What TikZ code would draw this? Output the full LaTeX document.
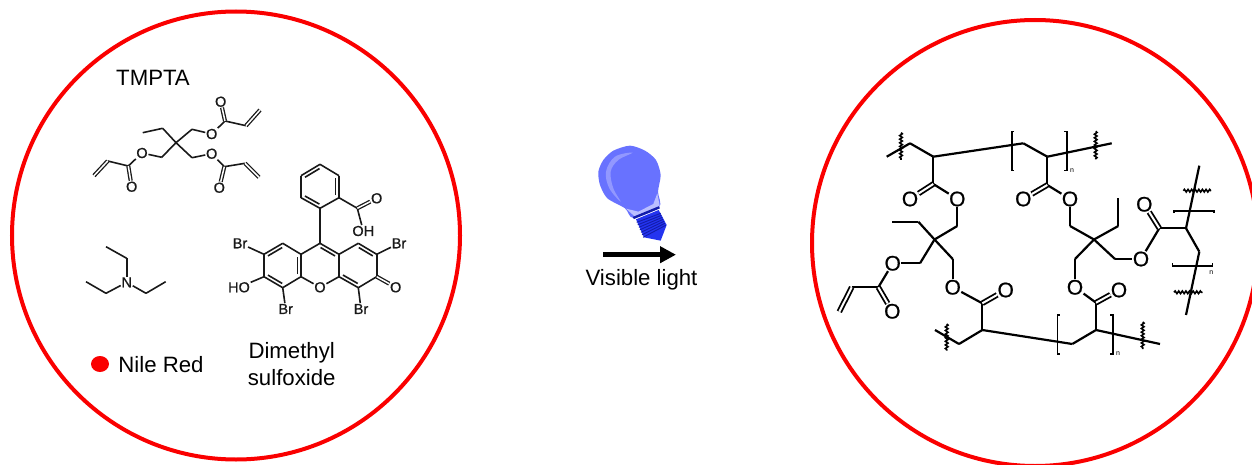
\documentclass[tikz,border=0pt]{standalone}
\usepackage{fontspec}
\setmainfont{Liberation Sans}
\newfontfamily\atomfont[FakeBold=0.8]{Liberation Sans}
\usepackage{tikz}
\usetikzlibrary{arrows.meta,calc,decorations.pathmorphing}
\definecolor{ringred}{RGB}{250,0,0}
\definecolor{bulbmain}{RGB}{104,114,255}
\definecolor{bulbshine}{RGB}{146,152,255}
\definecolor{bulbedge}{RGB}{186,190,255}
\definecolor{bulbbase}{RGB}{36,52,240}
\definecolor{bulbdark}{RGB}{18,28,170}
\tikzset{
  panel/.style={draw=ringred, line width=4pt},
  bigtext/.style={font=\fontsize{22.2}{27}\selectfont, text=black, align=center, inner sep=0pt},
  bond/.style={line width=1.6pt, black!90},
  dblbond/.style={bond, line width=1.3pt, double, double distance=1.5pt},
  atom/.style={font=\atomfont\fontsize{14.5}{14.5}\selectfont, inner sep=0.6pt, text=black!90},
  netbond/.style={line width=2.2pt, black},
  netdbl/.style={netbond, line width=1.8pt, double, double distance=2pt},
  netatom/.style={font=\atomfont\fontsize{21}{21}\selectfont, inner sep=0.2pt, text=black},
  wavy/.style={line width=1.6pt, black, decorate, decoration={snake, amplitude=1.3pt, segment length=3.6pt}},
  brack/.style={netbond, line width=1.6pt},
  repeatn/.style={font=\fontsize{7}{7}\selectfont, inner sep=0pt},
}
% inner line of a ring double bond, on the left of a -> b
\newcommand{\ringdbl}[2]{\draw[bond, shorten <=2.6pt, shorten >=2.6pt]
  ($(#1)!3.4pt!90:(#2)$) -- ($(#2)!3.4pt!-90:(#1)$);}
\begin{document}
\begin{tikzpicture}[x=1pt, y=-1pt]
  \useasboundingbox (0,0) rectangle (1252,465);
  \draw[panel] (236,235.5) circle (224);
  \draw[panel] (1035,243) circle (223);

  % TMPTA
  \node[bigtext] (tmpta) at (153,77.5) {TMPTA};
  \foreach \nm/\px/\py in {t0/176/142.7, t1/162.7/128.3, t2/142.7/132.7,
      a1/192/129.3, a2/225/121, a3/246/125.7, a4/260/110,
      b1/192/157.7, b2/224.3/166.7, b3/245/163.3, b4/259/177.3,
      c1/161.7/157.3, c2/128.3/166, c3/107.7/161, c4/94/175.7}
    {\coordinate (\nm) at (\px,\py);}
  \node[atom] (ao) at (211.7,134) {O};
  \node[atom] (aod) at (220.7,101.7) {O};
  \node[atom] (bo) at (211.7,153.7) {O};
  \node[atom] (bod) at (219.3,187.7) {O};
  \node[atom] (co) at (142,153) {O};
  \node[atom] (cod) at (131.7,186.7) {O};
  \foreach \a/\b in {t0/t1, t1/t2, t0/a1, a1/ao, ao/a2, a2/a3,
      t0/b1, b1/bo, bo/b2, b2/b3, t0/c1, c1/co, co/c2, c2/c3}
    {\draw[bond] (\a) -- (\b);}
  \foreach \a/\b in {a2/aod, a3/a4, b2/bod, b3/b4, c2/cod, c3/c4}
    {\draw[dblbond] (\a) -- (\b);}

  % Triethylamine
  \node[atom] (nn) at (126.7,282.3) {N};
  \foreach \nm/\px/\py in {e1/126.7/258.3, e2/106/246.7, e3/106/293.3,
      e4/86/281.7, e5/146/293.3, e6/165.7/281.7}
    {\coordinate (\nm) at (\px,\py);}
  \foreach \a/\b in {nn/e1, e1/e2, nn/e3, e3/e4, nn/e5, e5/e6}
    {\draw[bond] (\a) -- (\b);}

  % Eosin
  \foreach \nm/\px/\py in {p1/320/164.3, p2/339/175.7, p3/339/197.7,
      p4/320/208.3, p5/301/197.7, p6/301/175.7, cx/357.3/208.3,
      x9/320/243.3, r1/339/254.3, r2/358.3/243.3, r3/376.7/254.3,
      r4/376.7/276.7, r5/358.3/287.7, r6/339/276.7,
      l1/301/254.3, l2/282.7/243.3, l3/264/254.3,
      l4/264/276.7, l5/282.7/287.7, l6/301/276.7}
    {\coordinate (\nm) at (\px,\py);}
  \node[atom] (oxo) at (320,287.3) {O};
  \node[atom] (oacid) at (376.7,198.3) {O};
  \node[atom] (ohacid) at (363.3,231) {OH};
  \node[atom] (brl) at (240,243.3) {Br};
  \node[atom] (brr) at (399,243.3) {Br};
  \node[atom] (hol) at (239,287.3) {HO};
  \node[atom] (brbl) at (285.7,309) {Br};
  \node[atom] (brbr) at (361,309) {Br};
  \node[atom] (oket) at (395.7,287.3) {O};
  \foreach \a/\b in {p1/p2, p2/p3, p3/p4, p4/p5, p5/p6, p6/p1, p3/cx, cx/ohacid, p4/x9,
      x9/l1, l1/l2, l2/l3, l3/l4, l4/l5, l5/l6, l6/l1, l6/oxo, oxo/r6,
      r6/r1, r1/r2, r2/r3, r3/r4, r4/r5, r5/r6, r1/x9,
      l3/brl, r3/brr, l4/hol, l5/brbl, r5/brbr}
    {\draw[bond] (\a) -- (\b);}
  \foreach \a/\b in {cx/oacid, r4/oket}
    {\draw[dblbond] (\a) -- (\b);}
  \foreach \a/\b in {p1/p6, p3/p2, p5/p4, r3/r2, r6/r5, r1/x9, l2/l3, l4/l5, l6/l1}
    {\ringdbl{\a}{\b}}

  % Nile red and solvent
  \fill[ringred] (100,364) ellipse (9 and 8);
  \node[bigtext] (nile) at (161,364.5) {Nile Red};
  \node[bigtext] (dmso) at (291.7,364.5) {Dimethyl\\sulfoxide};

  % Bulb
  \begin{scope}[shift={(570,130)}, x=0.3333pt, y=-0.3333pt]
    \fill[bulbmain] plot[smooth cycle, tension=0.45] coordinates {(85,125) (100,90) (130,62) (180,47)
      (225,62) (258,90) (272,135) (264,185) (268,232) (190,264) (165,235) (112,205) (90,165)};
    \fill[bulbshine] plot[smooth cycle, tension=0.6] coordinates {(188,68) (135,80) (108,125) (118,175)
      (152,215) (130,175) (122,125) (145,90)};
    \fill[bulbedge] (262,190) -- (270,232) -- (195,260) -- (168,236) -- (205,245) -- (250,222) -- cycle;
    \fill[bulbbase] (198,268) -- (266,240) -- (290,285) -- (272,332) -- (222,322) -- cycle;
    \draw[bulbdark, line width=2.4pt] (190,264) -- (268,232);
    \foreach \k in {0,1,2,3,4,5,6}
      {\draw[bulbdark, line width=0.9pt] (200+3.2*\k,277+7.5*\k) -- (272+2.5*\k,250+6*\k);}
  \end{scope}
  \coordinate (lightstart) at (603.3,254.7);
  \coordinate (lightend) at (676,254.7);
  \draw[line width=5pt, -{Triangle[length=16pt, width=16pt]}] (lightstart) -- (lightend);
  \node[bigtext] (lighttext) at (641.5,280) {Visible light};

  % Network, top chain and bottom chain
  \foreach \nm/\px/\py in {u0/886.7/156.7, u1/910/143.3, u2/933.3/156.7, u3/1023.3/143.3,
      u4/1047.3/156.7, u5/1111.7/143.3, uc1/933.3/184, uc2/1047.3/185,
      v0/935/330, v1/959/344, v2/982.3/330, v3/1072.3/344, v4/1096/330, v5/1160/344,
      vc1/982.3/303.3, vc2/1096/302.7,
      ql/934.5/239.5, qr/1094/239.5, et1/918.3/221.7, et2/891.7/221.7,
      et3/1118.3/226, et4/1118.3/198.3,
      ul1/957.3/226, ur1/1070/226, ll1/920/263.3, ll2/952.7/259,
      ac/878.3/287.3, vn1/851.7/287.3, vn2/839.3/311.7,
      rd1/1075/259, rr1/1115/259, sc/1159.3/228.3,
      w1/1186/228.3, w2/1199.3/165.7, w3/1199.3/251.7, w4/1186/315}
    {\coordinate (\nm) at (\px,\py);}
  \node[netatom] (o1d) at (910,199) {O};
  \node[netatom] (o1) at (957.3,199) {O};
  \node[netatom] (o2d) at (1023.3,199) {O};
  \node[netatom] (o2) at (1070,199) {O};
  \node[netatom] (o3) at (892.7,263.3) {O};
  \node[netatom] (o3d) at (892.3,311.3) {O};
  \node[netatom] (o4) at (952.7,287.3) {O};
  \node[netatom] (o4d) at (1005.7,290) {O};
  \node[netatom] (o5) at (1075,287.3) {O};
  \node[netatom] (o5d) at (1119,290) {O};
  \node[netatom] (o6) at (1141,259) {O};
  \node[netatom] (o6d) at (1144.3,204.3) {O};
  \foreach \a/\b in {u0/u1, u1/u2, u2/u3, u3/u4, u4/u5, u2/uc1, u4/uc2, uc1/o1, uc2/o2,
      o1/ul1, ul1/ql, o2/ur1, ur1/qr, ql/et1, et1/et2, qr/et3, et3/et4,
      ql/ll1, ll1/o3, o3/ac, ac/vn1, ql/ll2, ll2/o4, o4/vc1, vc1/v2,
      v0/v1, v1/v2, v2/v3, v3/v4, v4/v5, vc2/v4,
      qr/rd1, rd1/o5, o5/vc2, qr/rr1, rr1/o6, o6/sc, sc/w1, w1/w2, w1/w3, w3/w4}
    {\draw[netbond] (\a) -- (\b);}
  \foreach \a/\b in {uc1/o1d, uc2/o2d, ac/o3d, vn1/vn2, vc1/o4d, vc2/o5d, sc/o6d}
    {\draw[netdbl] (\a) -- (\b);}

  % Chain breaks
  \draw[wavy] (901,132.7) -- (901,160);
  \draw[wavy] (1095.7,131.3) -- (1095.7,159.3);
  \draw[wavy] (946.7,324) -- (946.7,350.7);
  \draw[wavy] (1142.7,322) -- (1142.7,349);
  \draw[wavy] (1183.3,190.7) -- (1211,190.7);
  \draw[wavy] (1174,292.3) -- (1202.7,292.3);

  % Brackets
  \draw[brack] (1014,131.7) -- (1011.7,131.7) -- (1011.7,170.7) -- (1014,170.7);
  \draw[brack] (1064.4,131.7) -- (1066.7,131.7) -- (1066.7,170.7) -- (1064.4,170.7);
  \draw[brack] (1059.6,315) -- (1057.3,315) -- (1057.3,354) -- (1059.6,354);
  \draw[brack] (1110.4,315) -- (1112.7,315) -- (1112.7,354) -- (1110.4,354);
  \draw[brack] (1174,213) -- (1174,210.7) -- (1214,210.7) -- (1214,213);
  \draw[brack] (1172.3,263.4) -- (1172.3,265.7) -- (1212.3,265.7) -- (1212.3,263.4);
  \node[repeatn] (n1) at (1072,170.7) {n};
  \node[repeatn] (n2) at (1118,354) {n};
  \node[repeatn] (n3) at (1211.3,272.7) {n};
\end{tikzpicture}
\end{document}
